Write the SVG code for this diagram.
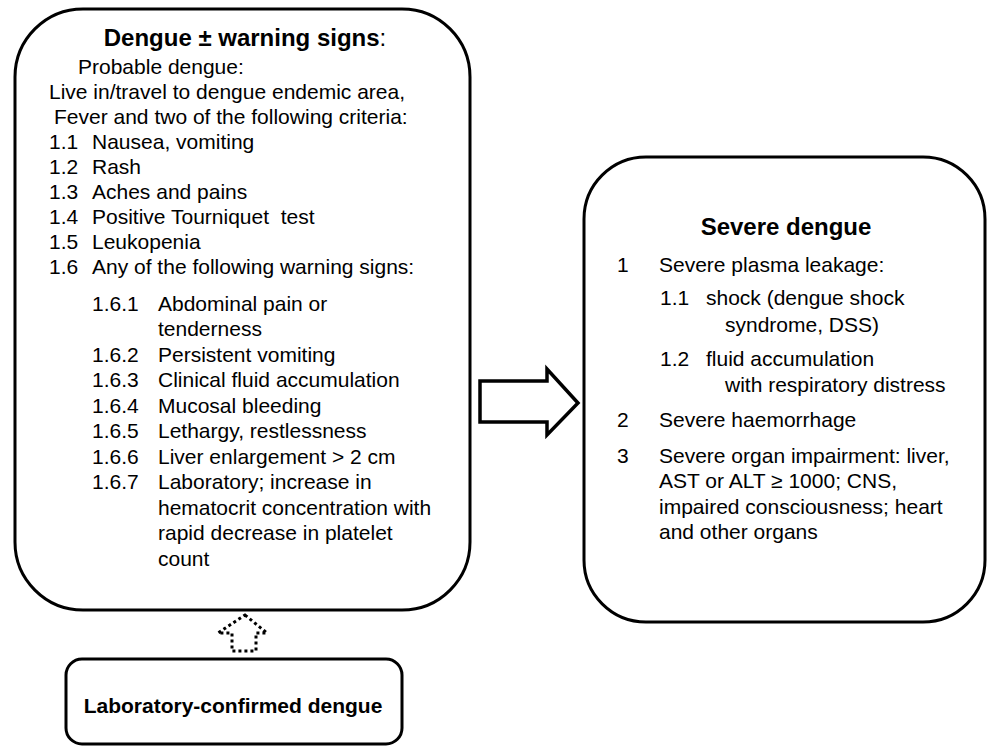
<svg xmlns="http://www.w3.org/2000/svg" width="988" height="747" viewBox="0 0 988 747">
<style>
.box{fill:#fff;stroke:#000;stroke-width:3}
.t{font-family:"Liberation Sans",Arial,sans-serif;font-size:21px;fill:#000}
.b{font-weight:bold}
.h{font-family:"Liberation Sans",Arial,sans-serif;font-size:24px;font-weight:bold;fill:#000}
.arrow{fill:#fff;stroke:#000;stroke-width:3.5}
.dot{fill:#fff;stroke:#000;stroke-width:3;stroke-dasharray:3 3}
</style>
<rect width="988" height="747" fill="#fff"/>
<g id="warning">
<rect class="box" x="15" y="9" width="455" height="601" rx="68"/>
<text class="h" x="245" y="46" text-anchor="middle">Dengue ± warning signs<tspan font-weight="normal">:</tspan></text>
<text class="t" x="78" y="74">Probable dengue:</text>
<text class="t" x="49" y="99">Live in/travel to dengue endemic area,</text>
<text class="t" x="54" y="124">Fever and two of the following criteria:</text>
<g class="t">
<text x="49" y="149">1.1</text><text x="92" y="149">Nausea, vomiting</text>
<text x="49" y="174">1.2</text><text x="92" y="174">Rash</text>
<text x="49" y="199">1.3</text><text x="92" y="199">Aches and pains</text>
<text x="49" y="224">1.4</text><text x="92" y="224" xml:space="preserve">Positive Tourniquet  test</text>
<text x="49" y="249">1.5</text><text x="92" y="249">Leukopenia</text>
<text x="49" y="274">1.6</text><text x="92" y="274">Any of the following warning signs:</text>
<text x="92" y="311">1.6.1</text><text x="158" y="311">Abdominal pain or</text>
<text x="158" y="336">tenderness</text>
<text x="92" y="362">1.6.2</text><text x="158" y="362">Persistent vomiting</text>
<text x="92" y="387">1.6.3</text><text x="158" y="387">Clinical fluid accumulation</text>
<text x="92" y="413">1.6.4</text><text x="158" y="413">Mucosal bleeding</text>
<text x="92" y="438">1.6.5</text><text x="158" y="438">Lethargy, restlessness</text>
<text x="92" y="464">1.6.6</text><text x="158" y="464">Liver enlargement &gt; 2 cm</text>
<text x="92" y="489">1.6.7</text><text x="158" y="489">Laboratory; increase in</text>
<text x="158" y="515">hematocrit concentration with</text>
<text x="158" y="540">rapid decrease in platelet</text>
<text x="158" y="566">count</text>
</g>
</g>
<g id="severe">
<rect class="box" x="584" y="157" width="401" height="465" rx="62"/>
<text class="h" x="786" y="235" text-anchor="middle">Severe dengue</text>
<g class="t">
<text x="617" y="272">1</text><text x="659" y="272">Severe plasma leakage:</text>
<text x="660" y="305">1.1</text><text x="706" y="305">shock (dengue shock</text>
<text x="725" y="332">syndrome, DSS)</text>
<text x="660" y="366">1.2</text><text x="706" y="366">fluid accumulation</text>
<text x="725" y="392">with respiratory distress</text>
<text x="617" y="427">2</text><text x="659" y="427">Severe haemorrhage</text>
<text x="617" y="463">3</text><text x="659" y="463">Severe organ impairment: liver,</text>
<text x="659" y="488">AST or ALT ≥ 1000; CNS,</text>
<text x="659" y="514">impaired consciousness; heart</text>
<text x="659" y="539">and other organs</text>
</g>
</g>
<g id="lab">
<rect class="box" x="66" y="659" width="336" height="85" rx="16"/>
<text class="t b" x="233" y="713" text-anchor="middle">Laboratory-confirmed dengue</text>
</g>
<g id="connectors">
<polygon class="arrow" points="480,381 547,381 547,369 578,403 547,435 547,422 480,422"/>
<polygon class="dot" points="245,615 267,633 256,633 256,651 232,651 232,633 218,633"/>
</g>
</svg>
